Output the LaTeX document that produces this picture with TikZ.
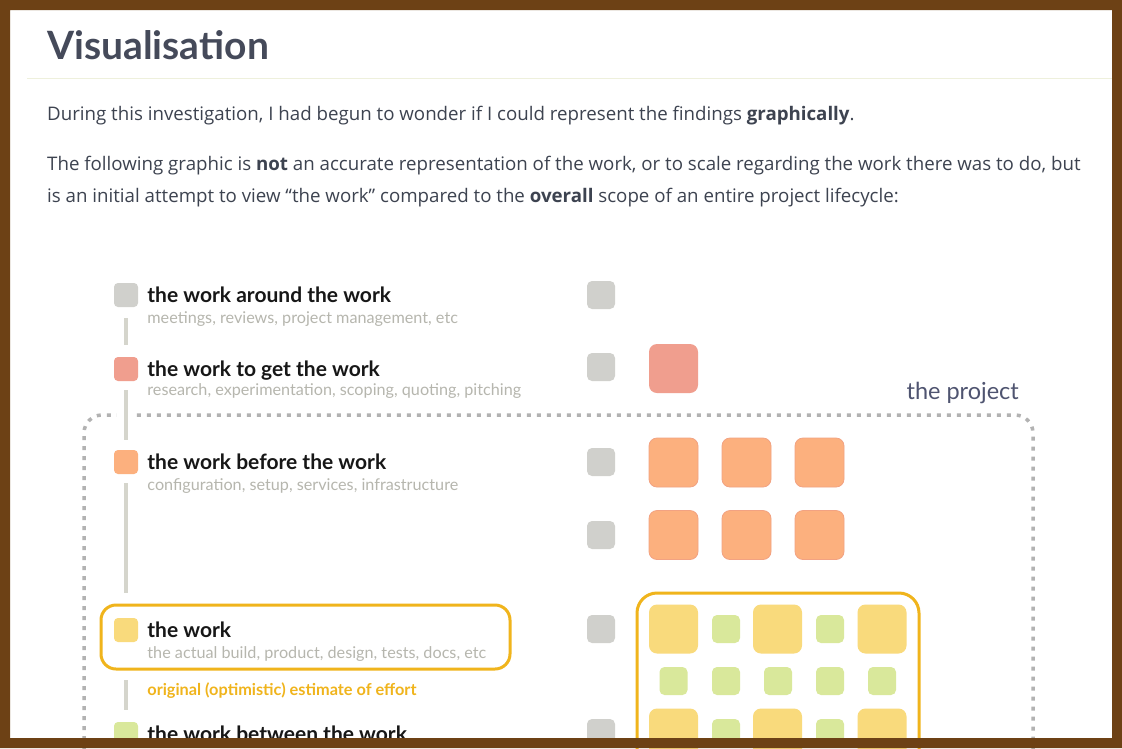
\documentclass[tikz,border=0pt]{standalone}
\usepackage{fontspec}
\setmainfont{Open Sans}
\newfontfamily\latofont{Lato}
\usetikzlibrary{positioning}

\definecolor{framebrown}{HTML}{6D4115}
\definecolor{headcol}{HTML}{454A5A}
\definecolor{rulecol}{HTML}{EEF0DC}
\definecolor{paracol}{HTML}{3D4350}
\definecolor{titleblack}{HTML}{171717}
\definecolor{notegrey}{HTML}{B6B6AE}
\definecolor{sqgrey}{HTML}{D0D0CC}
\definecolor{sqsalmon}{HTML}{F09E8E}
\definecolor{sqorange}{HTML}{FCB07E}
\definecolor{orangeedge}{HTML}{F2A282}
\definecolor{sqyellow}{HTML}{F9DA7C}
\definecolor{sqgreen}{HTML}{D9E89B}
\definecolor{gold}{HTML}{F0B41C}
\definecolor{dotgrey}{HTML}{B2B2B2}
\definecolor{barcol}{HTML}{D5D5CC}
\definecolor{projcol}{HTML}{4F5470}

\begin{document}
\begin{tikzpicture}[x=1pt,y=-1pt,
  heading/.style={font=\latofont\bfseries\fontsize{39}{44}\selectfont,text=headcol,inner sep=0pt},
  para/.style={font=\fontsize{18.7}{22}\selectfont,text=paracol,inner sep=0pt,anchor=base west},
  legsq/.style={rectangle,rounded corners=4pt,minimum size=24pt,inner sep=0pt},
  legtitle/.style={font=\latofont\bfseries\fontsize{21}{24}\selectfont,text=titleblack,inner sep=0pt,anchor=base west},
  legnote/.style={font=\latofont\fontsize{16.2}{19}\selectfont,text=notegrey,inner sep=0pt,anchor=base west},
  legline/.style={barcol,line width=4pt,preaction={draw=white,line width=18pt}},
  goldbox/.style={gold,line width=3pt},
  projline/.style={dotgrey,line width=3.5pt,dash pattern=on 4pt off 6pt},
  tally/.style={rectangle,rounded corners=5pt,minimum size=28pt,inner sep=0pt,fill=sqgrey},
  bigtile/.style={rectangle,rounded corners=8pt,minimum size=49pt,inner sep=0pt},
  smalltile/.style={rectangle,rounded corners=5pt,minimum size=28pt,inner sep=0pt,fill=sqgreen}]
  \useasboundingbox (0,0) rectangle (1122,748);
  \fill[white] (0,0) rectangle (1122,748);

  % heading and intro text
  \node[heading,anchor=base west] (title) at (47,59) {Visualisation};
  \draw[rulecol,line width=1pt] (27,78) -- (1112,78);
  \node[para] (para1) at (47,120) {During this investigation, I had begun to wonder if I could represent the findings \textbf{graphically}.};
  \node[para] (para2) at (47,170) {The following graphic is \textbf{not} an accurate representation of the work, or to scale regarding the work there was to do, but};
  \node[para] (para3) at (47,202) {is an initial attempt to view “the work” compared to the \textbf{overall} scope of an entire project lifecycle:};

  % project boundary
  \draw[projline,rounded corners=18pt] (84,760) -- (84,415) -- (1033,415) -- (1033,760);
  \node[font=\latofont\fontsize{23.5}{27}\selectfont,text=projcol,inner sep=0pt,anchor=base east] (project) at (1019,399) {the project};

  % legend squares
  \node[legsq,fill=sqgrey] (around) at (126,295) {};
  \node[legsq,fill=sqsalmon] (toget) at (126,369) {};
  \node[legsq,fill=sqorange] (before) at (126,462) {};
  \node[legsq,fill=sqyellow] (work) at (126,630) {};
  \node[legsq,fill=sqgreen] (between) at (126,734) {};

  % legend texts
  \node[legtitle] (aroundT) at ([xshift=9pt,yshift=-7pt]around.east) {the work around the work};
  \node[legnote] (aroundN) at ([yshift=-21pt]aroundT.base west) {meetings, reviews, project management, etc};
  \node[legtitle] (togetT) at ([xshift=9pt,yshift=-7pt]toget.east) {the work to get the work};
  \node[legnote] (togetN) at ([yshift=-19pt]togetT.base west) {research, experimentation, scoping, quoting, pitching};
  \node[legtitle] (beforeT) at ([xshift=9pt,yshift=-7pt]before.east) {the work before the work};
  \node[legnote] (beforeN) at ([yshift=-21pt]beforeT.base west) {configuration, setup, services, infrastructure};
  \node[legtitle] (workT) at ([xshift=9pt,yshift=-7pt]work.east) {the work};
  \node[legnote] (workN) at ([yshift=-21pt]workT.base west) {the actual build, product, design, tests, docs, etc};
  \node[legnote,font=\latofont\bfseries\fontsize{16.3}{19}\selectfont,text=gold] (estimate) at ([yshift=-37pt]workN.base west) {original (optimistic) estimate of effort};
  \node[legtitle] (betweenT) at ([xshift=9pt,yshift=-7pt]between.east) {the work between the work};
  \draw[goldbox,rounded corners=15pt] (101,605) rectangle (510,669);

  % legend connectors
  \draw[legline,shorten <=11pt,shorten >=12pt] (around) -- (toget);
  \draw[legline,shorten <=9pt,shorten >=10pt] (toget) -- (before);
  \draw[legline,shorten <=9pt,shorten >=25pt] (before) -- (work);
  \draw[legline,shorten <=38pt,shorten >=12pt] (work) -- (between);

  % tally column
  \foreach \y [count=\i] in {295,367,462,535,629,733}
    \node[tally] (tally\i) at (601,\y) {};

  % tiles
  \node[bigtile,fill=sqsalmon] (pitch) at (673.5,368.5) {};
  \foreach \y [count=\r] in {462.5,535} {
    \foreach \x [count=\c] in {673.5,746.5,819.5}
      \node[bigtile,fill=sqorange,draw=orangeedge,line width=0.8pt] (setup\r\c) at (\x,\y) {};
  }
  \draw[goldbox,rounded corners=20pt] (637,760) -- (637,593) -- (919,593) -- (919,760);
  \foreach \y [count=\r] in {629,733} {
    \foreach \x [count=\c] in {673.5,777.5,882}
      \node[bigtile,fill=sqyellow] (build\r\c) at (\x,\y) {};
    \foreach \x [count=\c] in {726,830}
      \node[smalltile] (gap\r\c) at (\x,\y) {};
  }
  \foreach \x [count=\c] in {673.5,726,778,830,882}
    \node[smalltile] (glue\c) at (\x,681) {};

  % page frame
  \fill[framebrown,even odd rule] (0,0) rectangle (1122,748) (10,10) rectangle (1112,738);
\end{tikzpicture}
\end{document}
